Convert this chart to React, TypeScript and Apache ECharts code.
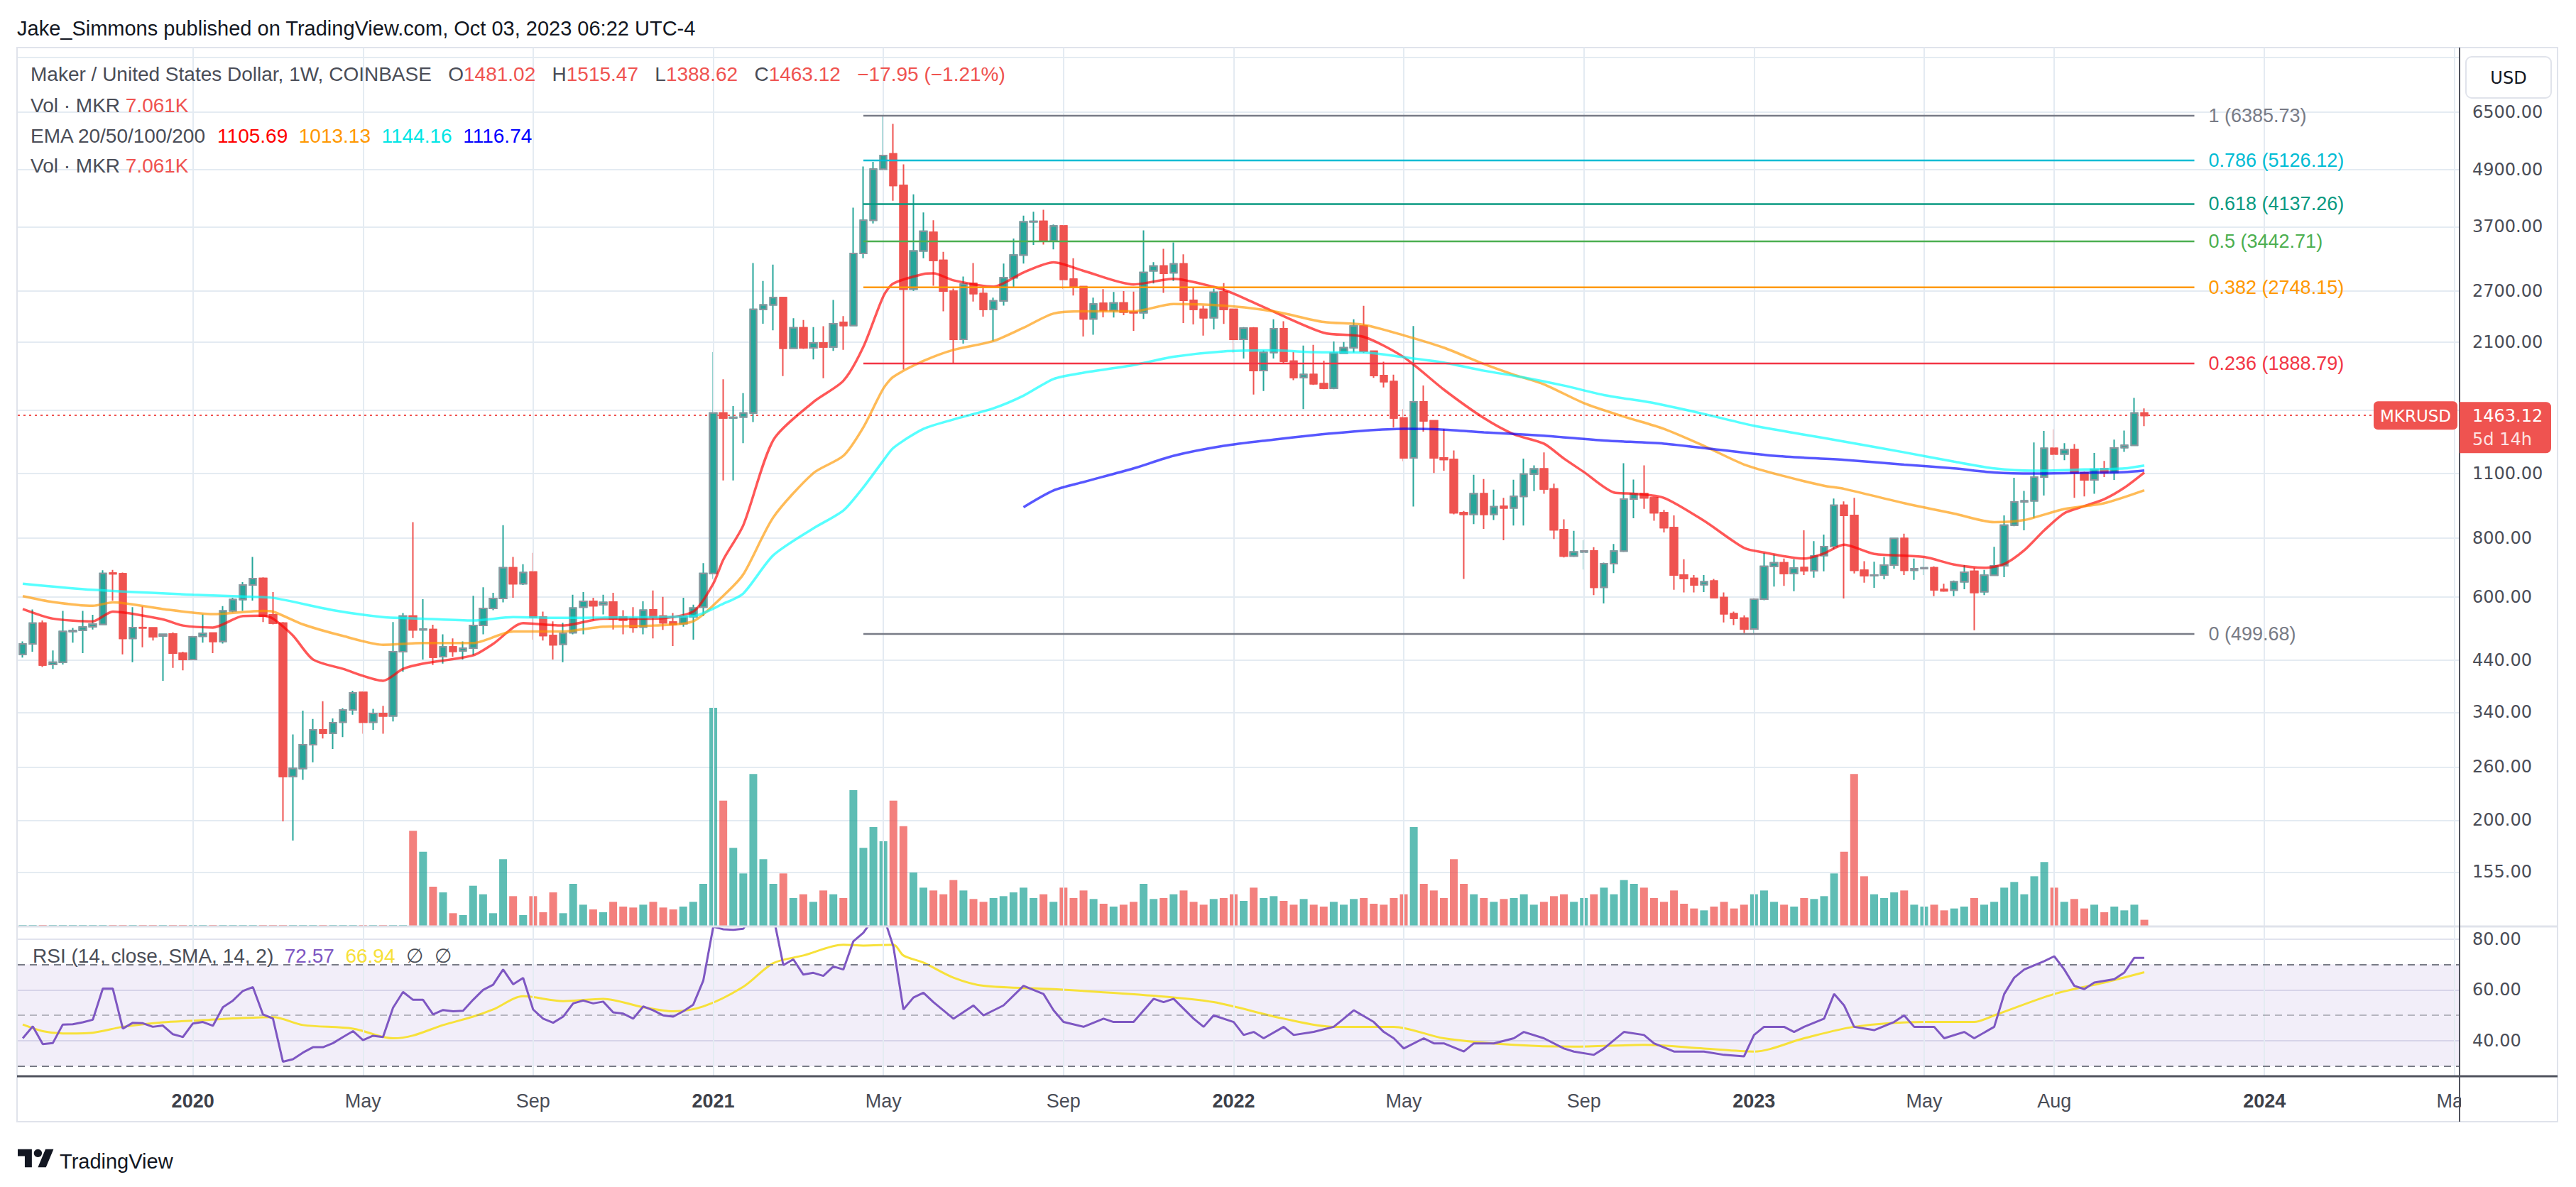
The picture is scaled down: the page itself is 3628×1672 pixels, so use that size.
import React, { useEffect, useRef } from 'react';
import * as echarts from 'echarts';

const W = 3628;
const H = 1672;

// ---------- data ----------
const START_DATE = Date.UTC(2019, 8, 9); // first weekly bar (Mon)
const N_CATS = 244; // weekly slots shown on the time axis (to May 2024)

const OPEN = [
  452, 476, 527, 430, 435, 506, 509, 518, 524, 674,
  672, 489, 516, 515, 495, 500, 455, 441, 494, 502,
  482, 560, 592, 636, 657, 549, 527, 248, 258, 290,
  312, 307, 324, 344, 375, 324, 338, 334, 458, 546,
  510, 511, 447, 469, 460, 466, 521, 567, 595, 692,
  640, 678, 543, 496, 475, 503, 570, 587, 577, 585,
  543, 539, 517, 563, 546, 530, 526, 544, 570, 673,
  1481, 1446, 1452, 1481, 2465, 2519, 2611, 2036, 2252, 2040,
  2090, 2050, 2313, 2277, 3246, 3820, 4914, 5295, 4532, 2723,
  3286, 3600, 3136, 2698, 2127, 2800, 2664, 2465, 2571, 2880,
  3220, 3791, 3800, 3453, 3715, 2860, 2757, 2352, 2540, 2453,
  2545, 2434, 2425, 2980, 3050, 2950, 3083, 2578, 2465, 2367,
  2685, 2465, 2127, 2247, 1824, 1994, 2241, 1911, 1764, 1790,
  1711, 1673, 1988, 2042, 2271, 2007, 1781, 1729, 1445, 1188,
  1565, 1426, 1188, 1179, 907, 900, 996, 900, 936, 929,
  983, 1097, 1125, 1020, 834, 733, 748, 752, 629, 706,
  751, 970, 996, 976, 907, 843, 668, 657, 637, 648,
  598, 552, 540, 512, 593, 697, 709, 673, 693, 682,
  735, 768, 941, 895, 684, 666, 668, 701, 799, 684,
  689, 692, 622, 620, 646, 680, 615, 667, 699, 853,
  957, 962, 1081, 1245, 1211, 1238, 1104, 1066, 1125, 1105,
  1249, 1264, 1481.02,
];
const HIGH = [
  482, 564, 534, 461, 560, 515, 560, 549, 684, 685,
  676, 570, 572, 516, 500, 504, 458, 496, 550, 504,
  573, 597, 645, 730, 660, 614, 530, 305, 343, 329,
  359, 330, 347, 378, 377, 346, 351, 530, 554, 866,
  593, 523, 499, 489, 482, 603, 629, 612, 853, 730,
  704, 745, 558, 532, 528, 606, 614, 597, 606, 612,
  562, 570, 587, 619, 600, 554, 597, 577, 708, 1998,
  1749, 1532, 1633, 3097, 2835, 3073, 2620, 2360, 2340, 2259,
  2270, 2582, 2386, 4065, 4976, 5093, 6385.73, 6137, 5030, 4339,
  3971, 3820, 3270, 2730, 2897, 3097, 2748, 2611, 3088, 3491,
  3910, 3984, 4021, 3742, 3720, 3171, 2760, 2611, 2723, 2685,
  2698, 2690, 3635, 3110, 3321, 3427, 3230, 2748, 2511, 2730,
  2805, 2470, 2259, 2259, 2015, 2348, 2326, 2000, 2064, 2070,
  1916, 2105, 2100, 2348, 2509, 2010, 1906, 1789, 1510, 2271,
  1695, 1430, 1370, 1232, 915, 1093, 1071, 1016, 976, 1067,
  1184, 1145, 1220, 1047, 878, 830, 792, 766, 710, 778,
  1157, 1068, 1145, 980, 920, 895, 722, 668, 668, 655,
  613, 558, 548, 596, 745, 738, 724, 722, 832, 789,
  815, 973, 959, 976, 715, 713, 730, 800, 818, 724,
  727, 697, 640, 650, 701, 692, 685, 767, 895, 1077,
  1010, 1282, 1356, 1367, 1277, 1271, 1110, 1217, 1170, 1299,
  1359, 1595, 1515.47,
];
const LOW = [
  445, 458, 425, 421, 430, 479, 455, 511, 522, 589,
  452, 435, 468, 484, 397, 423, 418, 440, 479, 455,
  477, 556, 560, 589, 530, 524, 199, 181, 244, 266,
  299, 284, 301, 336, 306, 312, 306, 325, 415, 490,
  441, 429, 432, 447, 441, 450, 499, 562, 584, 597,
  636, 486, 484, 441, 435, 499, 499, 535, 550, 511,
  499, 503, 499, 489, 510, 471, 518, 486, 546, 655,
  1063, 1063, 1277, 1417, 2298, 2224, 1776, 2030, 2030, 1928,
  1757, 2010, 2020, 2270, 3171, 3761, 4886, 4207, 1835, 2700,
  3171, 2770, 2442, 1889, 2084, 2562, 2378, 2110, 2511, 2748,
  3088, 3384, 3390, 3312, 2723, 2639, 2157, 2177, 2371, 2368,
  2395, 2218, 2352, 2800, 2674, 2835, 2306, 2290, 2166, 2235,
  2295, 1989, 1936, 1622, 1651, 1936, 1890, 1740, 1510, 1700,
  1665, 1665, 1980, 1995, 1990, 1760, 1680, 1379, 1168, 935,
  1352, 1103, 1115, 900, 655, 858, 838, 875, 792, 852,
  852, 1009, 996, 797, 728, 730, 686, 605, 581, 674,
  748, 883, 925, 872, 823, 621, 613, 613, 614, 597,
  529, 522, 502, 499.68, 590, 631, 633, 617, 668, 659,
  680, 758, 595, 673, 643, 627, 654, 689, 668, 652,
  668, 602, 615, 602, 623, 509, 605, 665, 661, 849,
  832, 884, 987, 1175, 1174, 976, 983, 996, 1081, 1066,
  1224, 1262, 1388.62,
];
const CLOSE = [
  476, 527, 429, 435, 506, 508, 517, 525, 673, 672,
  489, 516, 515, 493, 499, 455, 441, 493, 501, 482,
  560, 592, 636, 656, 546, 527, 248, 258, 290, 312,
  307, 323, 344, 374, 324, 338, 334, 458, 546, 510,
  512, 446, 469, 459, 466, 521, 567, 595, 692, 640,
  676, 543, 496, 474, 501, 568, 587, 574, 584, 539,
  535, 516, 562, 544, 528, 524, 544, 568, 673, 1481,
  1446, 1450, 1481, 2465, 2519, 2611, 2036, 2252, 2040, 2090,
  2050, 2298, 2277, 3246, 3820, 4914, 5253, 4532, 2723, 3286,
  3618, 3136, 2698, 2127, 2791, 2664, 2465, 2571, 2880, 3220,
  3791, 3800, 3453, 3715, 2857, 2757, 2352, 2531, 2453, 2545,
  2434, 2425, 2956, 3050, 2943, 3083, 2578, 2465, 2367, 2681,
  2465, 2127, 2247, 1824, 1994, 2241, 1911, 1764, 1790, 1711,
  1673, 1988, 2042, 2271, 2007, 1781, 1729, 1445, 1188, 1565,
  1426, 1188, 1179, 907, 900, 996, 900, 934, 929, 983,
  1097, 1125, 1020, 834, 733, 748, 752, 629, 706, 751,
  970, 996, 976, 907, 843, 668, 657, 636, 646, 598,
  552, 540, 512, 593, 697, 709, 673, 691, 682, 733,
  768, 941, 895, 684, 666, 668, 701, 799, 684, 689,
  692, 621, 618, 646, 677, 613, 667, 699, 853, 957,
  962, 1081, 1245, 1211, 1236, 1104, 1066, 1123, 1105, 1247,
  1264, 1481.07, 1463.12,
];
const VOLUME = [
  1.5, 1.5, 1.5, 1.5, 1.5, 1.5, 1.5, 1.5, 1.5, 1.5,
  1.5, 1.5, 1.5, 1.5, 1.5, 1.5, 1.5, 1.5, 1.5, 1.5,
  1.5, 1.5, 1.5, 1.5, 1.5, 1.5, 1.5, 1.5, 1.5, 1.5,
  1.5, 1.5, 1.5, 1.5, 1.5, 1.5, 1.5, 1.5, 1.5,
  101, 79, 42, 36, 14, 12, 43, 34, 14, 71, 32,
  12, 32, 15, 36, 14, 45, 23, 18, 15, 26,
  21, 20, 23, 26, 20, 18, 21, 26, 45, 231,
  133, 83, 56, 161, 71, 45, 56, 30, 34, 26,
  38, 34, 30, 144, 83, 105, 90, 133, 106, 57,
  41, 38, 34, 49, 38, 29, 26, 30, 32, 36,
  41, 30, 34, 26, 41, 30, 38, 29, 24, 21,
  23, 26, 45, 29, 30, 34, 38, 26, 23, 29,
  30, 34, 27, 41, 30, 32, 27, 23, 29, 23,
  21, 26, 23, 29, 30, 24, 23, 30, 34, 105,
  45, 38, 30, 71, 45, 34, 30, 26, 29, 30,
  34, 23, 26, 32, 34, 26, 30, 34, 41, 34,
  49, 45, 41, 30, 26, 38, 24, 19, 17, 21,
  26, 19, 23, 34, 38, 26, 23, 21, 30, 29,
  32, 56, 79, 161, 53, 34, 30, 36, 38, 23,
  21, 23, 17, 19, 21, 30, 23, 26, 41, 47,
  34, 53, 68, 41, 26, 29, 19, 23, 15, 21,
  17, 23, 7.061,
];

// EMA readings: [bar index, price]
const EMA20 = [[0,565],[3,539],[7,532],[9,558],[14,537],[16,521],[19,516],[22,546],[24,547],[25,539],[27,496],[29,441],[32,421],[36,397],[38,421],[40,432],[45,450],[47,476],[50,527],[54,521],[58,539],[63,539],[67,558],[69,640],[70,720],[72,853],[75,1297],[79,1563],[82,1735],[84,2051],[86,2631],[87,2800],[90,2933],[91,2943],[93,2844],[97,2758],[100,2956],[103,3107],[106,2980],[111,2787],[115,2866],[119,2754],[121,2664],[124,2493],[130,2197],[134,2154],[138,1949],[142,1662],[146,1445],[149,1334],[152,1274],[154,1184],[156,1108],[159,1002],[161,996],[164,976],[168,872],[172,763],[174,746],[178,724],[180,743],[182,775],[185,741],[190,730],[193,703],[196,692],[198,705],[200,754],[202,832],[204,905],[206,937],[208,970],[210,1026],[212,1105.69]];
const EMA50 = [[0,602],[3,585],[7,574],[9,584],[14,565],[19,551],[24,560],[25,558],[28,524],[32,495],[36,474],[40,478],[45,478],[49,506],[54,506],[58,518],[63,521],[67,532],[70,603],[72,670],[75,887],[79,1102],[82,1200],[84,1381],[86,1671],[87,1770],[90,1913],[93,2020],[97,2110],[100,2252],[103,2415],[106,2442],[111,2442],[115,2531],[120,2511],[125,2442],[130,2317],[134,2286],[138,2170],[142,2042],[146,1885],[149,1788],[152,1706],[156,1555],[160,1455],[164,1370],[168,1260],[172,1150],[176,1086],[180,1036],[182,1020],[188,951],[193,903],[197,866],[200,875],[204,924],[208,951],[212,1013.13]];
const EMA100 = [[0,640],[7,621],[17,606],[22,601],[25,597],[31,562],[36,543],[40,539],[45,534],[49,543],[54,541],[58,542],[67,546],[70,580],[72,610],[75,736],[79,840],[82,917],[84,1028],[86,1173],[87,1248],[90,1370],[93,1435],[97,1516],[100,1613],[103,1751],[106,1806],[111,1875],[115,1953],[120,2005],[125,2015],[129,1998],[134,1995],[138,1949],[142,1898],[146,1824],[150,1764],[154,1695],[158,1618],[163,1555],[168,1474],[173,1391],[178,1332],[182,1287],[188,1221],[193,1166],[197,1128],[201,1115],[206,1122],[210,1128],[212,1144.16]];
const EMA200 = [[100,932],[103,1012],[106,1055],[111,1128],[115,1200],[120,1260],[125,1300],[129,1328],[134,1357],[138,1370],[142,1365],[146,1347],[152,1325],[158,1294],[164,1274],[169,1240],[175,1200],[182,1176],[188,1149],[193,1128],[197,1106],[201,1100],[206,1104],[210,1108],[212,1116.74]];

// RSI readings: [bar index, value]
const RSI = [[0,41.0],[1,45.7],[2,38.7],[3,39.1],[4,46.4],[5,46.5],[6,47.3],[7,48.3],[8,60.5],[9,60.5],[10,44.8],[11,47.1],[12,46.9],[13,45.5],[14,46.0],[15,42.6],[16,41.5],[17,46.8],[18,47.4],[19,45.9],[20,53.2],[21,55.8],[22,59.6],[23,61.1],[24,50.4],[25,48.8],[26,31.8],[27,32.8],[28,35.4],[29,37.5],[30,37.5],[31,39.1],[32,41.5],[33,43.8],[34,40.3],[35,42.0],[36,41.5],[37,53.0],[38,59.2],[39,56.1],[40,56.1],[41,50.4],[42,52.1],[43,51.6],[44,51.8],[45,56.1],[46,60.0],[47,62.0],[48,68.0],[49,62.2],[50,64.7],[51,52.3],[52,48.7],[53,47.1],[54,49.5],[55,54.7],[56,55.8],[57,54.7],[58,55.4],[59,51.2],[60,50.7],[61,48.7],[62,53.5],[63,52.0],[64,50.0],[65,49.5],[66,51.6],[67,54.2],[68,63.6],[69,84.8],[70,83.8],[71,83.6],[72,84.0],[73,90],[74,90],[75,89],[76,69.7],[77,72],[78,66],[79,66.7],[80,65.5],[81,69.2],[82,68],[83,79.1],[84,82.4],[85,88],[86,89],[87,77],[88,52.3],[89,57],[90,58.9],[91,55.2],[93,48.7],[95,53.9],[96,50],[98,53.9],[100,61.6],[102,58.4],[103,52],[104,47.4],[106,45.5],[108,48.7],[109,47.4],[111,47.4],[113,56.5],[114,55.2],[115,56.5],[117,48.7],[118,45.5],[119,50],[121,47.4],[122,42.3],[123,43.5],[124,41],[126,45.5],[127,42.3],[129,43.5],[131,45.5],[132,48.7],[133,52],[135,47.4],[136,43.5],[137,41],[138,37],[140,41],[141,39],[142,39],[144,35.8],[145,39],[147,39],[149,41],[150,43.5],[152,41],[154,37],[155,35.8],[157,34.5],[158,37],[160,43.5],[162,42.3],[163,39],[165,35.8],[167,35.8],[168,35.8],[170,34.5],[172,33.9],[173,42.3],[174,45.5],[176,45.5],[177,43.5],[178,45.5],[180,48.7],[181,58.4],[182,53.9],[183,45.5],[185,44.2],[187,47.4],[188,50],[189,45.5],[191,45.5],[192,41],[194,43.5],[195,41],[197,45.5],[198,58.4],[199,64.8],[200,68],[202,71.3],[203,73.2],[204,68],[205,61.6],[206,60.3],[207,62.9],[209,64.2],[210,66.8],[211,72.6],[212,72.57]];
const RSI_SMA = [[0,46.4],[2,43.8],[4,42.9],[7,43.2],[10,45.5],[14,47.3],[18,48.1],[21,48.8],[25,49.3],[28,46.2],[33,44.8],[37,41],[39,42.1],[42,46.2],[45,49.5],[47,52.3],[50,57.5],[54,55.6],[58,56.5],[62,53.2],[65,51.6],[68,53.5],[72,61.2],[75,70.5],[78,73.5],[82,77.7],[84,77.4],[87,77.7],[88,73.5],[90,70.7],[93,64.8],[96,61.6],[103,60.3],[113,57.7],[119,55.2],[126,48.7],[131,45.5],[137,45.5],[142,41],[149,38.4],[155,37.7],[162,38.4],[168,37],[173,35.8],[178,41],[183,45.5],[190,47.4],[195,47.4],[197,50],[203,58.4],[208,62.9],[212,66.94]];

// Fibonacci retracement drawing
const FIB_LEVELS = ['1', '0.786', '0.618', '0.5', '0.382', '0.236', '0'];
const FIB_VALUES = [6385.73, 5126.12, 4137.26, 3442.71, 2748.15, 1888.79, 499.68];
const FIB_FROM = 84;
const FIB_TO = 217;

const PRICE_TICKS = [8500, 6500, 4900, 3700, 2700, 2100, 1500, 1100, 800, 600, 440, 340, 260, 200, 155];
const PRICE_LABELS = [6500, 4900, 3700, 2700, 2100, 1100, 800, 600, 440, 340, 260, 200, 155];
const RSI_TICKS = [40, 60, 80];
const X_LABEL_IDX = [17, 34, 51, 69, 86, 104, 121, 138, 156, 173, 190, 203, 224, 243];
const X_LABEL_TXT = ['2020', 'May', 'Sep', '2021', 'May', 'Sep', '2022', 'May', 'Sep', '2023', 'May', 'Aug', '2024', 'May'];

// ---------- style ----------
const UI = "'Liberation Sans', Arial, sans-serif";
const NUM = "'DejaVu Sans', Verdana, sans-serif";
const TEXT = '#131722';
const GRAY = '#4a4d57';
const GRID_C = '#e4ebf2';
const UP = '#26a69a';
const DOWN = '#ef5350';
const FIB_COLORS = ['#787b86', '#00bcd4', '#089981', '#4caf50', '#ff9800', '#f23645', '#787b86'];
const EMA_COLORS = ['rgba(255,0,0,0.66)', 'rgba(255,152,0,0.66)', 'rgba(0,255,255,0.66)', 'rgba(0,0,255,0.66)'];
const EMA_TEXT = ['#ff0000', '#ff9800', '#00e5e5', '#0000ff'];
const RSI_COLOR = '#7e57c2';
const SMA_COLOR = '#f7e13a';

const LN = Math.log;
const PRICE_MIN = 118.67;
const PRICE_MAX = 8930;

const TV_LOGO = 'M14 22H7V11H0V4h14v18zM28 22h-8l7.5-18h8L28 22z';
let logoRegistered = false;

function cats() {
  const out: string[] = [];
  for (let i = 0; i < N_CATS; i++) {
    out.push(new Date(START_DATE + i * 7 * 86400000).toISOString().slice(0, 10));
  }
  return out;
}

function buildOption() {
  const CATS = cats();
  const last = OPEN.length - 1;
  const baseX = {
    type: 'category', data: CATS, boundaryGap: true,
    axisLine: { show: false }, axisTick: { show: false }, axisLabel: { show: false }, splitLine: { show: false },
  };
  const wickData = OPEN.map((o, i) => [LN(o), LN(CLOSE[i]), LN(LOW[i]), LN(HIGH[i])]);
  const bodyData = OPEN.map((o, i) => [LN(o), LN(CLOSE[i]), LN(Math.min(o, CLOSE[i])), LN(Math.max(o, CLOSE[i]))]);
  const volData = VOLUME.map((v, i) => ({
    value: v,
    itemStyle: { color: CLOSE[i] >= OPEN[i] ? 'rgba(38,166,154,0.74)' : 'rgba(239,83,80,0.74)' },
  }));
  const emaSeries = [EMA20, EMA50, EMA100, EMA200].map((arr, j) => ({
    type: 'line', xAxisIndex: 0, yAxisIndex: 0, z: 6, silent: true, showSymbol: false, smooth: 0.25,
    data: arr.map(([k, v]) => [k, LN(v)]),
    lineStyle: { color: EMA_COLORS[j], width: 3.5 },
  }));
  const fibSeries = FIB_VALUES.map((v, j) => ({
    type: 'line', xAxisIndex: 0, yAxisIndex: 0, z: 7, silent: true, showSymbol: false,
    data: [[FIB_FROM, LN(v)], [FIB_TO, LN(v)]],
    lineStyle: { color: FIB_COLORS[j], width: 2.5 },
    endLabel: {
      show: true, formatter: `${FIB_LEVELS[j]} (${v.toFixed(2)})`, color: FIB_COLORS[j],
      fontSize: 27, fontFamily: UI, distance: 20,
    },
  }));
  const vgrid = (xi: number, yi: number) => ({
    type: 'line', xAxisIndex: xi, yAxisIndex: yi, data: [], z: 1, silent: true,
    markLine: {
      symbol: ['none', 'none'], silent: true, animation: false, label: { show: false },
      lineStyle: { color: GRID_C, width: 2, type: 'solid' },
      data: X_LABEL_IDX.map((i) => ({ xAxis: i })),
    },
  });

  return {
    animation: false,
    backgroundColor: '#ffffff',
    textStyle: { fontFamily: UI },
    grid: [
      { left: 25, right: 164, top: 67, height: 1238 },
      { left: 25, right: 164, top: 905, height: 400 },
      { left: 25, right: 164, top: 1305, height: 211 },
    ],
    xAxis: [
      { ...baseX, gridIndex: 0 },
      { ...baseX, gridIndex: 1 },
      {
        ...baseX, gridIndex: 2,
        axisLabel: {
          show: true, margin: 21,
          interval: (i: number) => X_LABEL_IDX.indexOf(i) >= 0,
          formatter: (_v: string, i: number) => {
            const t = X_LABEL_TXT[X_LABEL_IDX.indexOf(i)] || '';
            return /^\d{4}$/.test(t) ? `{y|${t}}` : `{m|${t}}`;
          },
          rich: {
            y: { fontSize: 27, fontFamily: UI, color: '#3d4049', fontWeight: 'bold' },
            m: { fontSize: 27, fontFamily: UI, color: GRAY },
          },
        },
      },
    ],
    yAxis: [
      {
        gridIndex: 0, type: 'value', position: 'right', min: LN(PRICE_MIN), max: LN(PRICE_MAX),
        axisLine: { show: false },
        axisTick: { show: false, customValues: PRICE_TICKS.map(LN) },
        axisLabel: {
          customValues: PRICE_LABELS.map(LN), formatter: (v: number) => Math.exp(v).toFixed(2),
          fontFamily: NUM, fontSize: 24, color: GRAY, margin: 18,
        },
        splitLine: { show: true, lineStyle: { color: GRID_C, width: 2 } },
      },
      { gridIndex: 1, type: 'value', min: 0, max: 300, show: false, splitLine: { show: false } },
      {
        gridIndex: 2, type: 'value', position: 'right', min: 26.1, max: 84.9,
        axisLine: { show: false },
        axisTick: { show: false, customValues: RSI_TICKS },
        axisLabel: {
          customValues: RSI_TICKS, formatter: (v: number) => v.toFixed(2),
          fontFamily: NUM, fontSize: 24, color: GRAY, margin: 18,
        },
        splitLine: { show: true, lineStyle: { color: '#e1e3ee', width: 2 } },
      },
    ],
    series: [
      vgrid(0, 0),
      vgrid(2, 2),
      {
        type: 'bar', xAxisIndex: 1, yAxisIndex: 1, data: volData, barWidth: 11, z: 2, silent: true,
      },
      {
        type: 'candlestick', xAxisIndex: 0, yAxisIndex: 0, data: wickData, barWidth: 10, z: 4, silent: true,
        itemStyle: { color: UP, color0: DOWN, borderColor: UP, borderColor0: DOWN, borderWidth: 2 },
      },
      {
        type: 'candlestick', xAxisIndex: 0, yAxisIndex: 0, data: bodyData, barWidth: 10, z: 5, silent: true,
        itemStyle: { color: UP, color0: DOWN, borderColor: '#8f939c', borderColor0: DOWN, borderWidth: 2 },
        markLine: {
          symbol: ['none', 'none'], silent: true, animation: false, label: { show: false },
          lineStyle: { color: DOWN, width: 2, type: [3, 5] },
          data: [{ yAxis: LN(CLOSE[last]) }],
        },
      },
      ...emaSeries,
      ...fibSeries,
      {
        type: 'line', xAxisIndex: 2, yAxisIndex: 2, z: 5, silent: true, showSymbol: false,
        data: RSI, lineStyle: { color: RSI_COLOR, width: 3 },
        markArea: {
          silent: true, itemStyle: { color: 'rgba(126,87,194,0.1)' },
          data: [[{ yAxis: 30 }, { yAxis: 70 }]],
        },
        markLine: {
          symbol: ['none', 'none'], silent: true, animation: false, label: { show: false },
          data: [
            { yAxis: 70, lineStyle: { color: '#787b86', width: 2, type: [10, 7] } },
            { yAxis: 50, lineStyle: { color: 'rgba(120,123,134,0.5)', width: 2, type: [10, 7] } },
            { yAxis: 30, lineStyle: { color: '#787b86', width: 2, type: [10, 7] } },
          ],
        },
      },
      {
        type: 'line', xAxisIndex: 2, yAxisIndex: 2, z: 4, silent: true, showSymbol: false, smooth: 0.3,
        data: RSI_SMA, lineStyle: { color: SMA_COLOR, width: 3 },
      },
    ],
  };
}

function buildGraphics(yPx: number) {
  const last = OPEN.length - 1;
  const chg = CLOSE[last] - CLOSE[last - 1];
  const pct = (chg / CLOSE[last - 1]) * 100;
  const m = (n: number) => (n < 0 ? '\u2212' : '+') + Math.abs(n).toFixed(2);
  const volTxt = `${VOLUME[last].toFixed(3)}K`;
  const emaLast = [EMA20, EMA50, EMA100, EMA200].map((a) => a[a.length - 1][1].toFixed(2));
  const rsiLast = RSI[RSI.length - 1][1].toFixed(2);
  const smaLast = RSI_SMA[RSI_SMA.length - 1][1].toFixed(2);
  const g = (c: string) => ({ fill: c, fontSize: 28, fontFamily: UI });
  const s = 1.42;
  const gap = '   ';
  return [
    { type: 'rect', silent: true, z: 0, shape: { x: 24, y: 67, width: 3578, height: 1513 }, style: { fill: 'none', stroke: '#e0e3eb', lineWidth: 2 } },
    { type: 'line', silent: true, z: 40, shape: { x1: 24, y1: 1305, x2: 3602, y2: 1305 }, style: { stroke: '#e0e3eb', lineWidth: 3 } },
    { type: 'rect', silent: true, z: 50, shape: { x: 3466, y: 1519, width: 135, height: 60 }, style: { fill: '#ffffff' } },
    { type: 'line', silent: true, z: 60, shape: { x1: 3464, y1: 67, x2: 3464, y2: 1580 }, style: { stroke: '#50535e', lineWidth: 2 } },
    { type: 'line', silent: true, z: 60, shape: { x1: 24, y1: 1516, x2: 3602, y2: 1516 }, style: { stroke: '#50535e', lineWidth: 3 } },
    {
      type: 'text', silent: true, z: 60, x: 24, y: 40,
      style: { text: 'Jake_Simmons published on TradingView.com, Oct 03, 2023 06:22 UTC-4', fill: TEXT, fontSize: 29, fontFamily: UI, verticalAlign: 'middle' },
    },
    {
      type: 'text', silent: true, z: 60, x: 43, y: 104,
      style: {
        text: `{g|Maker / United States Dollar, 1W, COINBASE}${gap}{g|O}{r|${OPEN[last].toFixed(2)}}${gap}{g|H}{r|${HIGH[last].toFixed(2)}}${gap}{g|L}{r|${LOW[last].toFixed(2)}}${gap}{g|C}{r|${CLOSE[last].toFixed(2)}}${gap}{r|${m(chg)} (${m(pct)}%)}`,
        fontSize: 28, fontFamily: UI, verticalAlign: 'middle', fill: GRAY,
        rich: { g: g(GRAY), r: g(DOWN) },
      },
    },
    {
      type: 'text', silent: true, z: 60, x: 43, y: 148,
      style: { text: `{g|Vol \u00b7 MKR} {r|${volTxt}}`, fontSize: 28, fontFamily: UI, verticalAlign: 'middle', rich: { g: g(GRAY), r: g(DOWN) } },
    },
    {
      type: 'text', silent: true, z: 60, x: 43, y: 191,
      style: {
        text: `{g|EMA 20/50/100/200}  {a|${emaLast[0]}}  {b|${emaLast[1]}}  {c|${emaLast[2]}}  {d|${emaLast[3]}}`,
        fontSize: 28, fontFamily: UI, verticalAlign: 'middle',
        rich: { g: g(GRAY), a: g(EMA_TEXT[0]), b: g(EMA_TEXT[1]), c: g(EMA_TEXT[2]), d: g(EMA_TEXT[3]) },
      },
    },
    {
      type: 'text', silent: true, z: 60, x: 43, y: 233,
      style: { text: `{g|Vol \u00b7 MKR} {r|${volTxt}}`, fontSize: 28, fontFamily: UI, verticalAlign: 'middle', rich: { g: g(GRAY), r: g(DOWN) } },
    },
    {
      type: 'text', silent: true, z: 60, x: 46, y: 1346,
      style: {
        text: `{g|RSI (14, close, SMA, 14, 2)}  {p|${rsiLast}}  {y|${smaLast}}  {g|\u2205}  {g|\u2205}`,
        fontSize: 28, fontFamily: UI, verticalAlign: 'middle',
        rich: { g: g(GRAY), p: g(RSI_COLOR), y: g(SMA_COLOR) },
      },
    },
    { type: 'rect', silent: true, z: 60, shape: { x: 3473, y: 80, width: 120, height: 58, r: 8 }, style: { fill: '#ffffff', stroke: '#e0e3eb', lineWidth: 2 } },
    { type: 'text', silent: true, z: 61, x: 3533, y: 110, style: { text: 'USD', fill: TEXT, fontSize: 24, fontFamily: NUM, align: 'center', verticalAlign: 'middle' } },
    { type: 'rect', silent: true, z: 70, shape: { x: 3343, y: yPx - 20, width: 118, height: 40, r: 6 }, style: { fill: DOWN } },
    { type: 'text', silent: true, z: 71, x: 3402, y: yPx + 1, style: { text: 'MKRUSD', fill: '#ffffff', fontSize: 23, fontFamily: NUM, align: 'center', verticalAlign: 'middle' } },
    { type: 'rect', silent: true, z: 70, shape: { x: 3464, y: yPx - 19, width: 129, height: 72, r: [0, 7, 7, 0] }, style: { fill: DOWN } },
    { type: 'text', silent: true, z: 71, x: 3482, y: yPx + 1, style: { text: CLOSE[last].toFixed(2), fill: '#ffffff', fontSize: 24, fontFamily: NUM, verticalAlign: 'middle' } },
    { type: 'text', silent: true, z: 71, x: 3482, y: yPx + 34, style: { text: '5d 14h', fill: '#fde3e3', fontSize: 24, fontFamily: NUM, verticalAlign: 'middle' } },
    { type: 'tvlogo', silent: true, z: 60, x: 25, y: 1613, scaleX: s, scaleY: s, style: { fill: TEXT } },
    { type: 'circle', silent: true, z: 60, shape: { cx: 25 + 20 * s, cy: 1613 + 8 * s, r: 4 * s }, style: { fill: TEXT } },
    { type: 'text', silent: true, z: 60, x: 84, y: 1636, style: { text: 'TradingView', fill: TEXT, fontSize: 29, fontFamily: UI, verticalAlign: 'middle' } },
  ];
}

export default function App() {
  const ref = useRef<HTMLDivElement>(null);
  useEffect(() => {
    document.body.style.margin = '0';
    if (!logoRegistered) {
      echarts.graphic.registerShape('tvlogo', echarts.graphic.extendPath(TV_LOGO, {}));
      logoRegistered = true;
    }
    const chart = echarts.init(ref.current as HTMLDivElement, undefined, { renderer: 'svg', width: W, height: H });
    chart.setOption(buildOption() as any);
    const yPx = chart.convertToPixel({ yAxisIndex: 0 }, LN(CLOSE[CLOSE.length - 1])) as number;
    chart.setOption({ graphic: buildGraphics(yPx) } as any);
    return () => chart.dispose();
  }, []);
  return <div ref={ref} style={{ width: W, height: H }} />;
}
